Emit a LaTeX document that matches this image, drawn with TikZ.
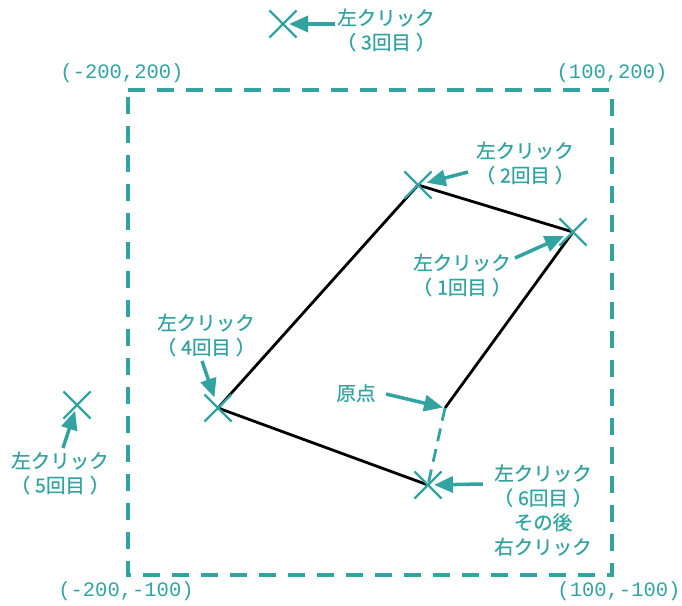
\documentclass[tikz,border=0pt]{standalone}
\usepackage{fontspec}
\newfontfamily\jpfont[FakeBold=0.6]{Noto Sans CJK JP}
\setmonofont{Liberation Mono}
\usetikzlibrary{arrows.meta,shapes.misc}
\definecolor{tealmark}{RGB}{50,163,161}
\tikzset{
  % click marks
  clk/.style={cross out,draw=tealmark,line width=2.2pt,minimum size=25pt,inner sep=0pt},
  % texts
  lbl/.style={text=tealmark,font=\jpfont\fontsize{19.5}{24.5}\selectfont,align=center,inner sep=0pt},
  corner/.style={text=tealmark,font=\ttfamily\fontsize{20.5}{24}\selectfont,inner sep=0pt},
  % arrows and lines
  ptr/.style={line width=3.5pt,tealmark,-{Triangle[length=19pt,width=16pt]}},
  frame/.style={tealmark,line width=4pt,dash pattern=on 17pt off 12pt},
  outline/.style={black,line width=2.8pt,line join=round},
  closing/.style={tealmark,line width=2.8pt,dash pattern=on 13pt off 8pt},
}
\newcommand{\nth}[1]{（\hspace{5pt}#1回目\hspace{5pt}）}

\begin{document}
\begin{tikzpicture}[x=1pt,y=-1pt]
\useasboundingbox (0,0) rectangle (682,605);

%% ===== range frame =====
\coordinate (tl) at (128,90);
\coordinate (tr) at (612,90);
\coordinate (br) at (612,575);
\coordinate (bl) at (128,575);
\draw[frame] (tl) -- (tr) -- (br) -- (bl) -- cycle;

\node[corner] (ctl) at (122,73)  {(-200,200)};
\node[corner] (ctr) at (612,73)  {(100,200)};
\node[corner] (cbl) at (126,591) {(-200,-100)};
\node[corner] (cbr) at (619,591) {(100,-100)};

%% ===== click points =====
\coordinate (p1) at (573,232);
\coordinate (p2) at (418,185);
\coordinate (p3) at (283,24);
\coordinate (p4) at (218,408);
\coordinate (p5) at (77,405);
\coordinate (p6) at (428,485);
\coordinate (org) at (445,408);

%% polygon
\draw[outline] (org) -- (p1) -- (p2) -- (p4) -- (p6);
\draw[closing] (org) -- (p6);

\foreach \i in {1,...,6}
  \node[clk] (c\i) at (p\i) {};

%% ===== labels =====
\node[lbl] (l1) at (462,275) {左クリック\\\nth{1}};
\node[lbl] (l2) at (525,163) {左クリック\\\nth{2}};
\node[lbl] (l3) at (386,30)  {左クリック\\\nth{3}};
\node[lbl] (l4) at (206,335) {左クリック\\\nth{4}};
\node[lbl] (l5) at (60,473)  {左クリック\\\nth{5}};
\node[lbl] (l6) at (543,510) {左クリック\\\nth{6}\\その後\\右クリック};
\node[lbl] (l0) at (356,393) {原点};

%% arrow tails
\coordinate (t1) at (515,258);
\coordinate (t2) at (468,172);
\coordinate (t3) at (335,24);
\coordinate (t4) at (202,361);
\coordinate (t5) at (63,448);
\coordinate (t6) at (483,484);
\coordinate (t0) at (386,394);

\draw[ptr,shorten >=10pt] (t1) -- (p1);
\draw[ptr,shorten >=9pt]  (t2) -- (p2);
\draw[ptr,shorten >=6pt]  (t3) -- (p3);
\draw[ptr,shorten >=11pt] (t4) -- (p4);
\draw[ptr,shorten >=6pt]  (t5) -- (p5);
\draw[ptr,shorten >=6pt]  (t6) -- (p6);
\draw[ptr,shorten >=2pt]  (t0) -- (org);
\end{tikzpicture}
\end{document}
